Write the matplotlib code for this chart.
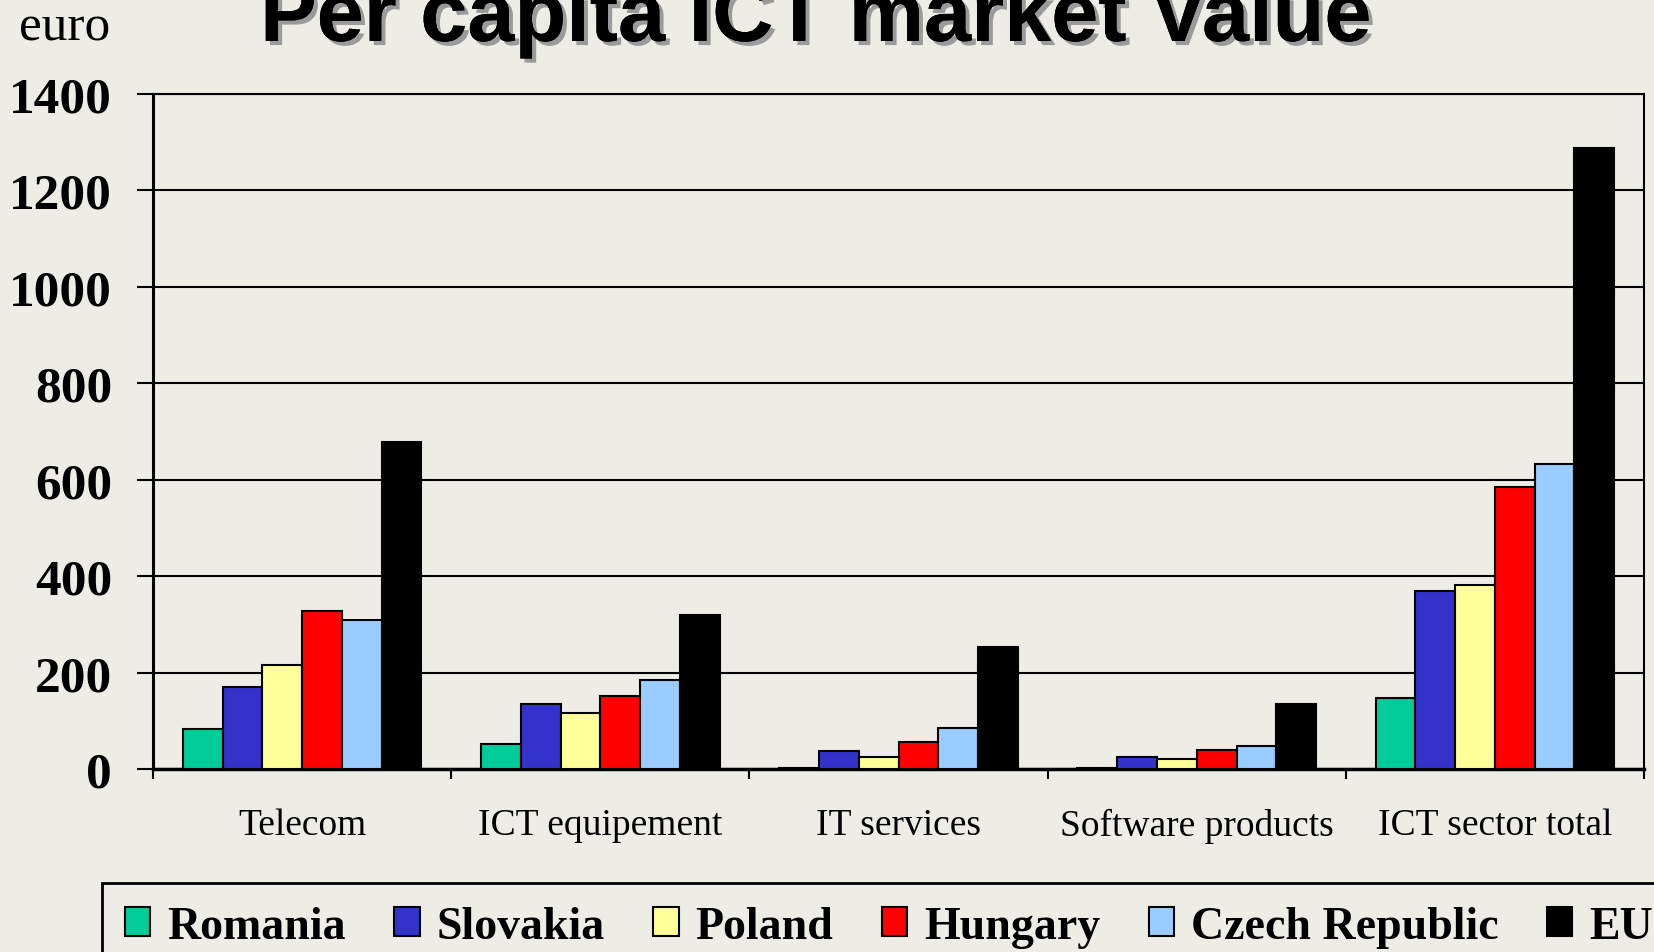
"""Per capita ICT market value: grouped bars per segment and country."""

import matplotlib
matplotlib.use("Agg")
import matplotlib.pyplot as plt
import matplotlib.patheffects as pe
import numpy as np

categories = ["Telecom", "ICT equipement", "IT services", "Software products", "ICT sector total"]
countries = ["Romania", "Slovakia", "Poland", "Hungary", "Czech Republic", "EU"]

romania = [84, 52, 3, 3, 147]
slovakia = [171, 134, 37, 25, 369]
poland = [216, 117, 24, 20, 382]
hungary = [327, 152, 57, 40, 584]
czech = [310, 184, 86, 48, 633]
eu = [679, 320, 254, 135, 1287]

series = [romania, slovakia, poland, hungary, czech, eu]
colors = ["#00CC99", "#3333CC", "#FFFF99", "#FF0000", "#99CCFF", "#000000"]
yticks = [0, 200, 400, 600, 800, 1000, 1200, 1400]

BG = "#EEEDE5"
SERIF = "Liberation Serif"

fig = plt.figure(figsize=(16.54, 9.53), dpi=100, facecolor=BG)
ax = fig.add_axes([0.0925, 0.192, 0.9015, 0.7083], facecolor=BG)

x = np.arange(len(categories))
width = 0.8 / len(series)
for i, (vals, color, name) in enumerate(zip(series, colors, countries)):
    offset = (i - (len(series) - 1) / 2) * width
    ax.bar(x + offset, vals, width, color=color, edgecolor="black",
           linewidth=1.5, label=name, zorder=3)

ax.set_xlim(-0.5, len(categories) - 0.5)
ax.set_ylim(0, 1400)

# eixo y: grade horizontal preta, rótulos em negrito
ax.set_yticks(yticks)
ax.set_yticklabels([str(v) for v in yticks], fontfamily=SERIF,
                   fontweight="bold", fontsize=37)
ax.yaxis.grid(True, color="black", lw=1.5, zorder=0)
ax.set_axisbelow(True)
ax.tick_params(axis="y", length=11.5, width=1.5, pad=18)

# eixo x: marcas nas fronteiras, rótulos nos centros
ax.set_xticks(np.arange(-0.5, len(categories)), labels=[""] * (len(categories) + 1))
ax.set_xticks(x, labels=categories, minor=True)
ax.tick_params(axis="x", which="major", length=7, width=1.5)
ax.tick_params(axis="x", which="minor", length=0, pad=28, labelsize=27)
for lbl in ax.get_xticklabels(minor=True):
    lbl.set_fontfamily(SERIF)

for sp in ax.spines.values():
    sp.set_color("black")
    sp.set_linewidth(1.5)
ax.spines["left"].set_linewidth(2.2)
ax.spines["bottom"].set_linewidth(2.5)

fig.text(0.493, 0.956, "Per capita ICT market Value", ha="center", va="baseline",
         fontfamily="Liberation Sans", fontweight="bold", fontsize=61,
         path_effects=[pe.withSimplePatchShadow(offset=(3, -3), shadow_rgbFace="#9a9a9a", alpha=1),
                       pe.Normal()])
fig.text(0.0115, 0.958, "euro", ha="left", va="baseline", fontfamily=SERIF, fontsize=37)

# legenda na base, cortada pela borda como no original
leg = fig.legend(loc="upper left", bbox_to_anchor=(0.0617, 0.0724), ncol=6,
                 prop={"family": SERIF, "weight": "bold", "size": 33},
                 handlelength=0.55, handleheight=0.6, handletextpad=0.37,
                 columnspacing=1.06, borderpad=0.5, borderaxespad=0, fancybox=False,
                 frameon=True, edgecolor="black", facecolor=BG, framealpha=1)
leg.get_frame().set_linewidth(2)

fig.savefig("out.png", dpi=100, facecolor=BG)
